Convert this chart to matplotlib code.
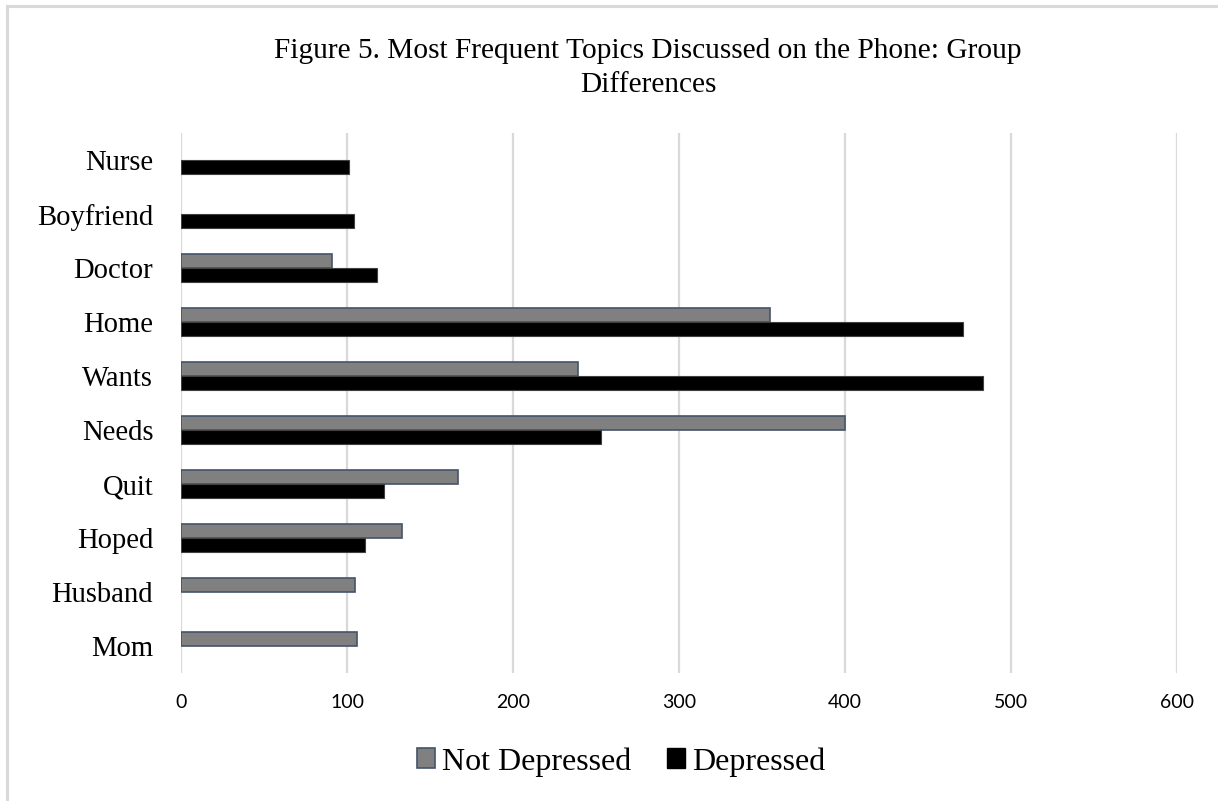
import matplotlib.pyplot as plt
from matplotlib.lines import Line2D
from matplotlib.patches import Patch
import numpy as np

# topics, listed bottom to top
topics = ["Mom", "Husband", "Hoped", "Quit", "Needs", "Wants", "Home", "Doctor", "Boyfriend", "Nurse"]
not_depressed = [106, 105, 133, 167, 400, 239, 355, 91, 0, 0]
depressed = [0, 0, 111, 122, 253, 483, 471, 118, 104, 101]
xticks = [0, 100, 200, 300, 400, 500, 600]

serif = ["Liberation Serif", "DejaVu Serif"]

fig = plt.figure(figsize=(12.18, 8.01), dpi=100)
ax = fig.add_axes([0.1486, 0.1598, 0.8177, 0.6740])

# light grey frame edges (left and top)
fx, fy = 7 / 1218, 1 - 6 / 801
fig.lines.append(Line2D([fx, fx], [0, fy], transform=fig.transFigure, color="#d9d9d9", linewidth=2.2))
fig.lines.append(Line2D([fx, 1], [fy, fy], transform=fig.transFigure, color="#d9d9d9", linewidth=2.2))

y = np.arange(len(topics))
h = 0.265
nd = np.array(not_depressed)
dp = np.array(depressed)
ax.barh(y[nd > 0] + h / 2, nd[nd > 0], height=h, color="#808080", edgecolor="#44546a",
        linewidth=1.2, zorder=3, label="Not Depressed")
ax.barh(y[dp > 0] - h / 2, dp[dp > 0], height=h, color="#000000", edgecolor="#404040",
        linewidth=0.8, zorder=3, label="Depressed")

ax.set_xlim(0, 600)
ax.set_ylim(-0.5, len(topics) - 0.5)
ax.set_xticks(xticks)
ax.set_xticklabels([str(t) for t in xticks], fontfamily="Lato", fontsize=14)
ax.set_yticks(y)
ax.set_yticklabels(topics, fontfamily=serif, fontsize=20.6)
ax.tick_params(axis="both", length=0)
ax.tick_params(axis="x", pad=15)
ax.tick_params(axis="y", pad=20)
ax.grid(axis="x", color="#d9d9d9", linewidth=1.6, zorder=0)
ax.set_axisbelow(True)
for s in ax.spines.values():
    s.set_visible(False)

fig.text(0.532, 0.953, "Figure 5. Most Frequent Topics Discussed on the Phone: Group\nDifferences",
         ha="center", va="top", fontfamily=serif, fontsize=21.2, linespacing=1.4)

handles = [Patch(facecolor="#808080", edgecolor="#44546a", linewidth=1.2),
           Patch(facecolor="#000000", edgecolor="#000000")]
fig.legend(handles, ["Not Depressed", "Depressed"], loc="center", bbox_to_anchor=(0.510, 0.049),
           ncol=2, frameon=False, prop={"family": serif, "size": 23},
           handlelength=0.56, handleheight=0.56, handletextpad=0.22, columnspacing=1.1)

fig.savefig("out.png", dpi=100)
